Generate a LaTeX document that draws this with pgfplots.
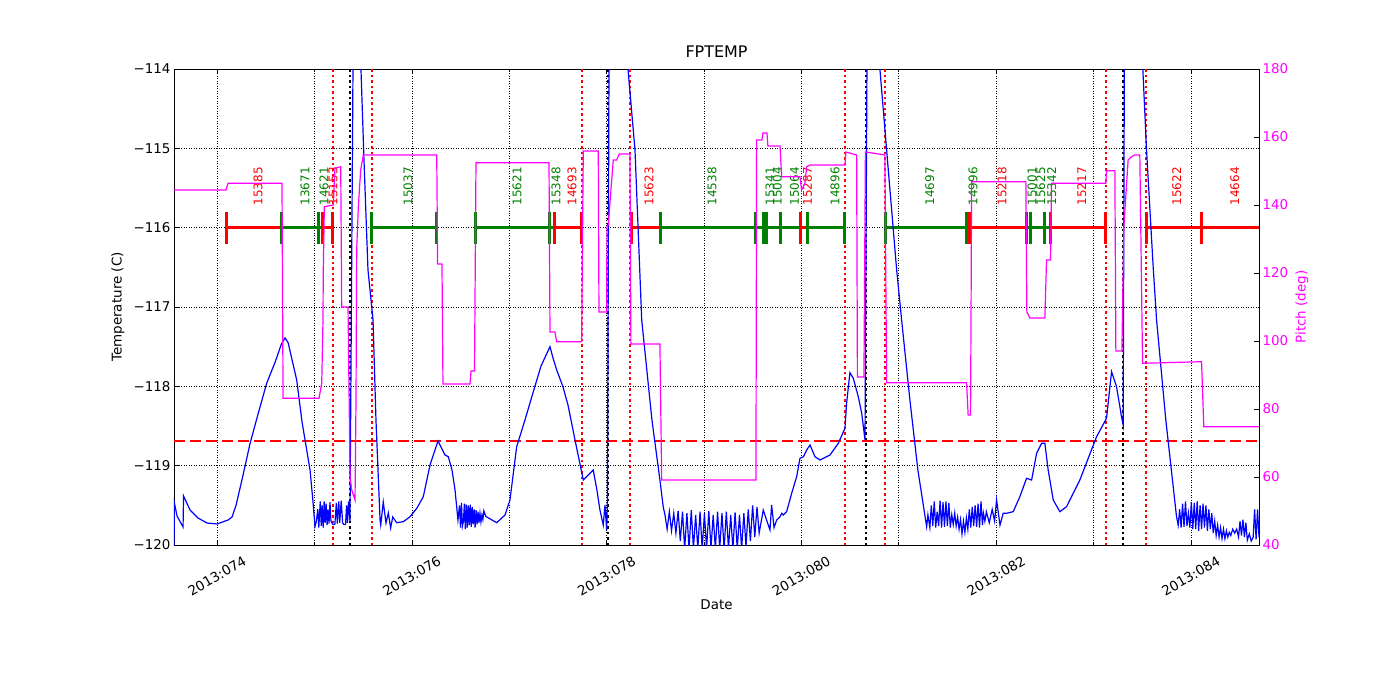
\documentclass[border=0pt]{standalone}
\usepackage{fontspec}
\setmainfont{DejaVu Sans}
\usepackage{pgfplots}
\pgfplotsset{compat=1.18}
\definecolor{mplgreen}{rgb}{0,0.5,0}
\definecolor{mplmag}{rgb}{1,0,1}
\definecolor{mplblue}{rgb}{0,0,1}
\tikzset{
  seg/.style={line width=3bp, mark=|, mark size=16bp, mark options={line width=3bp, solid}},
  vred/.style={red, line width=2.5bp, dash pattern=on 2.5bp off 3bp},
  vblk/.style={black, line width=2.5bp, dash pattern=on 2.5bp off 3bp},
  lab/.style={rotate=90, anchor=west, inner sep=0pt, font=\fontsize{12}{14}\selectfont},
}
\begin{document}
\begin{tikzpicture}
\path[use as bounding box] (-174bp,-155bp) rectangle (1226bp,545bp);
\begin{axis}[
  at={(0,0)}, anchor=south west,
  scale only axis, width=1085bp, height=476bp,
  xmin=73.558, xmax=84.70, ymin=-120, ymax=-114,
  xtick={74,76,...,84}, minor xtick={75,77,...,83},
  xticklabels={2013:074,2013:076,2013:078,2013:080,2013:082,2013:084},
  ytick={-120,-119,...,-114},
  yticklabels={−120,−119,−118,−117,−116,−115,−114},
  ytick pos=left,
  tick align=inside,
  major tick length=5bp, minor tick length=2.5bp,
  every tick/.style={black, line width=0.6bp},
  grid=both,
  major grid style={black, line width=0.5bp, dotted},
  minor grid style={black, line width=0.5bp, dotted},
  axis line style={line width=0.8bp},
  tick label style={font=\fontsize{13.5}{16}\selectfont},
  xticklabel style={anchor=center, yshift=-31bp, rotate=30},
  xlabel={Date},
  xlabel style={at={(axis description cs:0.5,0)}, anchor=center, yshift=-60bp, font=\fontsize{13.5}{16}\selectfont},
  ylabel={Temperature (C)},
  ylabel style={at={(axis description cs:0,0.5)}, anchor=center, yshift=56bp, font=\fontsize{13.5}{16}\selectfont},
  title={FPTEMP},
  title style={at={(axis description cs:0.5,1)}, anchor=base, yshift=6bp, font=\fontsize{16}{19}\selectfont},
]
% vertical dotted lines
\addplot[vred] coordinates {(75.191,-120) (75.191,-114)};
\addplot[vred] coordinates {(75.591,-120) (75.591,-114)};
\addplot[vred] coordinates {(77.747,-120) (77.747,-114)};
\addplot[vred] coordinates {(78.240,-120) (78.240,-114)};
\addplot[vred] coordinates {(80.448,-120) (80.448,-114)};
\addplot[vred] coordinates {(80.858,-120) (80.858,-114)};
\addplot[vred] coordinates {(83.127,-120) (83.127,-114)};
\addplot[vred] coordinates {(83.538,-120) (83.538,-114)};
\addplot[vblk] coordinates {(75.366,-120) (75.366,-114)};
\addplot[vblk] coordinates {(78.014,-120) (78.014,-114)};
\addplot[vblk] coordinates {(80.663,-120) (80.663,-114)};
\addplot[vblk] coordinates {(83.302,-120) (83.302,-114)};
% red dashed limit
\addplot[red, line width=2.5bp, dash pattern=on 11bp off 5bp] coordinates {(73.558,-118.69) (84.70,-118.69)};
% segments
\addplot[seg, red] coordinates {(74.100,-116) (74.667,-116)};
\addplot[seg, mplgreen] coordinates {(74.667,-116) (75.047,-116)};
\addplot[seg, mplgreen] coordinates {(75.047,-116) (75.078,-116)};
\addplot[seg, red] coordinates {(75.078,-116) (75.181,-116)};
\addplot[seg, mplgreen] coordinates {(75.591,-116) (76.256,-116)};
\addplot[seg, mplgreen] coordinates {(76.649,-116) (77.409,-116)};
\addplot[seg, mplgreen] coordinates {(77.409,-116) (77.470,-116)};
\addplot[seg, red] coordinates {(77.470,-116) (77.747,-116)};
\addplot[seg, red] coordinates {(78.251,-116) (78.553,-116)};
\addplot[seg, mplgreen] coordinates {(78.553,-116) (79.534,-116)};
\addplot[seg, mplgreen] coordinates {(79.534,-116) (79.611,-116)};
\addplot[seg, mplgreen] coordinates {(79.611,-116) (79.642,-116)};
\addplot[seg, mplgreen] coordinates {(79.642,-116) (79.791,-116)};
\addplot[seg, mplgreen] coordinates {(79.791,-116) (79.996,-116)};
\addplot[seg, red] coordinates {(79.996,-116) (80.063,-116)};
\addplot[seg, mplgreen] coordinates {(80.063,-116) (80.448,-116)};
\addplot[seg, mplgreen] coordinates {(80.864,-116) (81.700,-116)};
\addplot[seg, mplgreen] coordinates {(81.700,-116) (81.731,-116)};
\addplot[seg, red] coordinates {(81.731,-116) (82.311,-116)};
\addplot[seg, mplgreen] coordinates {(82.311,-116) (82.357,-116)};
\addplot[seg, mplgreen] coordinates {(82.357,-116) (82.501,-116)};
\addplot[seg, mplgreen] coordinates {(82.501,-116) (82.563,-116)};
\addplot[seg, red] coordinates {(82.563,-116) (83.127,-116)};
\addplot[seg, red] coordinates {(83.543,-116) (84.113,-116)};
\addplot[seg, red] coordinates {(84.113,-116) (84.75,-116)};
% labels
\node[lab, text=red] at (axis cs:74.421,-115.72) {15385};
\node[lab, text=mplgreen] at (axis cs:74.903,-115.72) {13671};
\node[lab, text=mplgreen] at (axis cs:75.099,-115.72) {14621};
\node[lab, text=red] at (axis cs:75.191,-115.72) {15153};
\node[lab, text=mplgreen] at (axis cs:75.961,-115.72) {15037};
\node[lab, text=mplgreen] at (axis cs:77.080,-115.72) {15621};
\node[lab, text=mplgreen] at (axis cs:77.480,-115.72) {15348};
\node[lab, text=red] at (axis cs:77.645,-115.72) {14693};
\node[lab, text=red] at (axis cs:78.435,-115.72) {15623};
\node[lab, text=mplgreen] at (axis cs:79.082,-115.72) {14538};
\node[lab, text=mplgreen] at (axis cs:79.678,-115.72) {15341};
\node[lab, text=mplgreen] at (axis cs:79.754,-115.72) {15004};
\node[lab, text=mplgreen] at (axis cs:79.930,-115.72) {15064};
\node[lab, text=red] at (axis cs:80.063,-115.72) {15287};
\node[lab, text=mplgreen] at (axis cs:80.347,-115.72) {14896};
\node[lab, text=mplgreen] at (axis cs:81.320,-115.72) {14697};
\node[lab, text=mplgreen] at (axis cs:81.762,-115.72) {14996};
\node[lab, text=red] at (axis cs:82.060,-115.72) {15218};
\node[lab, text=mplgreen] at (axis cs:82.368,-115.72) {15001};
\node[lab, text=mplgreen] at (axis cs:82.460,-115.72) {15625};
\node[lab, text=mplgreen] at (axis cs:82.573,-115.72) {15342};
\node[lab, text=red] at (axis cs:82.881,-115.72) {15217};
\node[lab, text=red] at (axis cs:83.856,-115.72) {15622};
\node[lab, text=red] at (axis cs:84.452,-115.72) {14664};
% temperature
\addplot[mplblue, line width=1.2bp] coordinates {
(73.558,-120.10) (73.562,-119.47) (73.589,-119.634) (73.651,-119.773) (73.656,-119.382)
(73.723,-119.559) (73.805,-119.660) (73.897,-119.723) (74.000,-119.735) (74.113,-119.685)
(74.154,-119.647) (74.195,-119.50) (74.267,-119.12) (74.339,-118.72) (74.421,-118.35)
(74.510,-117.96) (74.595,-117.70) (74.660,-117.47) (74.698,-117.39) (74.730,-117.45)
(74.818,-117.92) (74.873,-118.45) (74.955,-119.055) (74.985,-119.45) (75.006,-119.769)
(75.02,-119.70) (75.035,-119.55) (75.045,-119.78) (75.06,-119.45) (75.07,-119.76)
(75.08,-119.50) (75.09,-119.78) (75.10,-119.45) (75.11,-119.72) (75.12,-119.48)
(75.13,-119.75) (75.14,-119.55) (75.15,-119.73) (75.16,-119.46) (75.17,-119.70)
(75.19,-119.74) (75.21,-119.74) (75.225,-119.47) (75.235,-119.73) (75.25,-119.45)
(75.26,-119.72) (75.275,-119.44) (75.29,-119.72) (75.30,-119.74) (75.32,-119.74)
(75.33,-119.50) (75.34,-119.72) (75.35,-119.45) (75.365,-119.70)
(75.396,-114.0) (75.437,-113.5) (75.478,-114.0) (75.509,-115.147) (75.550,-116.533)
(75.602,-117.164) (75.632,-118.424) (75.674,-119.685)
(75.681,-119.748) (75.707,-119.458) (75.735,-119.723) (75.759,-119.597) (75.783,-119.786)
(75.804,-119.647) (75.845,-119.719) (75.913,-119.706) (75.982,-119.643) (76.053,-119.534)
(76.118,-119.391) (76.187,-118.992) (76.269,-118.689) (76.341,-118.866) (76.375,-118.887)
(76.413,-119.055) (76.444,-119.307) (76.474,-119.685)
(76.49,-119.50) (76.50,-119.78) (76.51,-119.47) (76.52,-119.76) (76.53,-119.70)
(76.54,-119.48) (76.55,-119.80) (76.56,-119.49) (76.57,-119.78) (76.58,-119.50)
(76.59,-119.75) (76.60,-119.49) (76.61,-119.77) (76.62,-119.52) (76.63,-119.74)
(76.64,-119.55) (76.65,-119.78) (76.66,-119.56) (76.67,-119.74) (76.68,-119.58)
(76.69,-119.72) (76.70,-119.60) (76.71,-119.71) (76.72,-119.62) (76.73,-119.68)
(76.74,-119.57) (76.76,-119.64)
(76.872,-119.719) (76.957,-119.622) (77.008,-119.433) (77.077,-118.761) (77.162,-118.424)
(77.244,-118.084) (77.327,-117.744) (77.419,-117.500) (77.450,-117.643) (77.488,-117.794)
(77.552,-118.005) (77.604,-118.235) (77.676,-118.676) (77.761,-119.181) (77.863,-119.055)
(77.901,-119.307) (77.932,-119.559) (77.966,-119.748) (77.984,-119.496) (78.001,-119.811)
(78.009,-119.433) (78.025,-114.0) (78.087,-113.5) (78.220,-114.0) (78.292,-115.021)
(78.361,-117.164) (78.466,-118.424) (78.548,-119.181) (78.582,-119.521)
(78.600,-119.62) (78.622,-119.80) (78.645,-119.58) (78.667,-119.82) (78.690,-119.60)
(78.712,-119.85) (78.735,-119.57) (78.757,-119.95) (78.780,-119.58) (78.802,-120.05)
(78.825,-119.60) (78.847,-120.05) (78.870,-119.56) (78.892,-120.05) (78.915,-119.62)
(78.937,-120.05) (78.960,-119.58) (78.982,-120.05) (79.005,-119.60) (79.027,-120.05)
(79.050,-119.57) (79.072,-120.05) (79.095,-119.62) (79.117,-120.05) (79.140,-119.58)
(79.162,-120.05) (79.185,-119.60) (79.207,-120.05) (79.230,-119.58) (79.252,-120.05)
(79.275,-119.62) (79.297,-120.05) (79.320,-119.59) (79.342,-120.05) (79.365,-119.62)
(79.387,-120.05) (79.410,-119.60) (79.432,-120.02) (79.455,-119.55) (79.477,-119.95)
(79.500,-119.50) (79.522,-119.90) (79.545,-119.52) (79.567,-119.85)
(79.609,-119.559) (79.678,-119.811) (79.695,-119.496) (79.720,-119.78) (79.747,-119.685)
(79.781,-119.643) (79.800,-119.60) (79.815,-119.622) (79.849,-119.580) (79.901,-119.348)
(79.952,-119.139) (79.986,-118.907) (80.021,-118.887) (80.055,-118.803) (80.089,-118.739)
(80.140,-118.887) (80.192,-118.929) (80.294,-118.866) (80.380,-118.718) (80.448,-118.529)
(80.465,-118.214) (80.499,-117.828) (80.534,-117.899) (80.585,-118.131) (80.620,-118.340)
(80.654,-118.676) (80.674,-114.0) (80.735,-113.5) (80.807,-114.0) (80.876,-115.021)
(80.979,-116.533) (81.030,-117.164) (81.115,-118.172) (81.197,-119.055) (81.287,-119.769)
(81.30,-119.62) (81.32,-119.78) (81.335,-119.50) (81.35,-119.76) (81.365,-119.45)
(81.38,-119.78) (81.395,-119.58) (81.41,-119.76) (81.425,-119.44) (81.44,-119.78)
(81.455,-119.46) (81.47,-119.77) (81.485,-119.45) (81.50,-119.76) (81.515,-119.47)
(81.53,-119.78) (81.545,-119.62) (81.56,-119.74) (81.575,-119.60) (81.59,-119.76)
(81.605,-119.65) (81.62,-119.80) (81.635,-119.68) (81.65,-119.86) (81.665,-119.70)
(81.68,-119.84) (81.695,-119.66) (81.71,-119.80) (81.725,-119.55) (81.74,-119.78)
(81.755,-119.52) (81.77,-119.76) (81.785,-119.50) (81.80,-119.77) (81.815,-119.48)
(81.83,-119.78) (81.845,-119.45) (81.86,-119.75) (81.87,-119.60) (81.885,-119.70)
(81.90,-119.58) (81.93,-119.72) (81.96,-119.55) (81.985,-119.70) (82.005,-119.43)
(82.04,-119.75) (82.073,-119.60) (82.108,-119.60) (82.176,-119.580) (82.244,-119.391)
(82.313,-119.159) (82.365,-119.181) (82.416,-118.844) (82.467,-118.718) (82.501,-118.718)
(82.535,-119.055) (82.587,-119.433) (82.655,-119.580) (82.724,-119.517) (82.860,-119.181)
(83.032,-118.635) (83.134,-118.403) (83.186,-117.815) (83.237,-118.005) (83.288,-118.383)
(83.305,-118.487) (83.317,-114.0) (83.405,-113.5) (83.507,-114.0) (83.545,-115.021)
(83.613,-116.492) (83.648,-117.164) (83.743,-118.424) (83.853,-119.643)
(83.87,-119.75) (83.885,-119.55) (83.90,-119.78) (83.915,-119.48) (83.93,-119.77)
(83.945,-119.45) (83.96,-119.76) (83.975,-119.60) (83.99,-119.78) (84.005,-119.46)
(84.02,-119.80) (84.035,-119.47) (84.05,-119.80) (84.065,-119.45) (84.08,-119.82)
(84.095,-119.50) (84.11,-119.80) (84.125,-119.48) (84.14,-119.78) (84.155,-119.50)
(84.17,-119.82) (84.185,-119.55) (84.20,-119.80) (84.215,-119.60) (84.23,-119.85)
(84.245,-119.70) (84.26,-119.88) (84.275,-119.75) (84.29,-119.90) (84.305,-119.78)
(84.32,-119.92) (84.335,-119.80) (84.35,-119.92) (84.365,-119.82) (84.38,-119.90)
(84.395,-119.84) (84.41,-119.88) (84.43,-119.80) (84.45,-119.85) (84.47,-119.80)
(84.49,-119.90) (84.505,-119.70) (84.52,-119.88) (84.535,-119.68) (84.55,-119.90)
(84.565,-119.72) (84.58,-119.94) (84.60,-119.86) (84.62,-119.95) (84.64,-119.90)
(84.655,-119.55) (84.67,-119.93) (84.685,-119.55) (84.70,-119.90)
};
\end{axis}
\begin{axis}[
  at={(0,0)}, anchor=south west,
  scale only axis, width=1085bp, height=476bp,
  xmin=73.558, xmax=84.70, ymin=40, ymax=180,
  axis x line=none, axis y line*=right,
  ytick={40,60,...,180},
  tick align=inside,
  major tick length=5bp,
  every tick/.style={black, line width=0.6bp},
  axis line style={line width=0.8bp},
  /pgf/number format/assume math mode=true,
  yticklabel style={text=mplmag, font=\fontsize{13.5}{16}\selectfont},
  ylabel={Pitch (deg)},
  ylabel style={at={(axis description cs:1,0.5)}, anchor=center, yshift=-43bp, text=mplmag, font=\fontsize{13.5}{16}\selectfont},
]
\addplot[mplmag, line width=1.2bp] coordinates {
(73.558,144.41) (74.092,144.41) (74.113,146.38) (74.667,146.38) (74.678,83.15)
(75.047,83.15) (75.075,87.56) (75.088,106.18) (75.091,120.88) (75.102,139.50)
(75.194,140.0) (75.211,150.79) (75.270,151.26) (75.280,110.0) (75.345,110.0)
(75.366,60.0) (75.383,56.2) (75.417,53.2) (75.427,82.6) (75.434,126.8)
(75.451,139.5) (75.475,150.3) (75.502,154.7) (76.256,154.7) (76.265,122.65)
(76.310,122.65) (76.320,87.35) (76.598,87.35) (76.608,91.18) (76.644,91.18)
(76.659,152.44) (77.409,152.44) (77.419,102.65) (77.470,102.65) (77.488,99.79)
(77.744,99.79) (77.761,155.88) (77.915,155.88) (77.922,108.53) (78.001,108.53)
(78.004,133.62) (78.017,134.1) (78.069,153.24) (78.104,153.24) (78.130,155.0)
(78.240,155.0) (78.250,99.12) (78.548,99.12) (78.566,59.12) (79.534,59.12)
(79.541,159.12) (79.595,159.12) (79.606,161.18) (79.647,161.18) (79.657,157.35)
(79.781,157.35) (79.798,148.32) (79.986,148.32) (80.003,144.41) (80.037,146.38)
(80.055,151.26) (80.089,151.76) (80.448,151.76) (80.458,155.59) (80.568,154.71)
(80.576,89.41) (80.643,89.41) (80.658,155.59) (80.858,154.71) (80.876,87.74)
(81.697,87.74) (81.713,78.24) (81.738,78.24) (81.749,146.85) (82.306,146.85)
(82.316,108.53) (82.347,106.76) (82.501,106.76) (82.518,123.82) (82.559,123.82)
(82.570,146.38) (83.127,146.38) (83.134,150.09) (83.220,150.09) (83.230,97.06)
(83.292,97.06) (83.312,133.62) (83.356,153.24) (83.391,154.21) (83.425,154.71)
(83.476,154.71) (83.504,93.44) (84.110,93.91) (84.133,74.79) (84.70,74.79)
};
\end{axis}
\end{tikzpicture}
\end{document}
